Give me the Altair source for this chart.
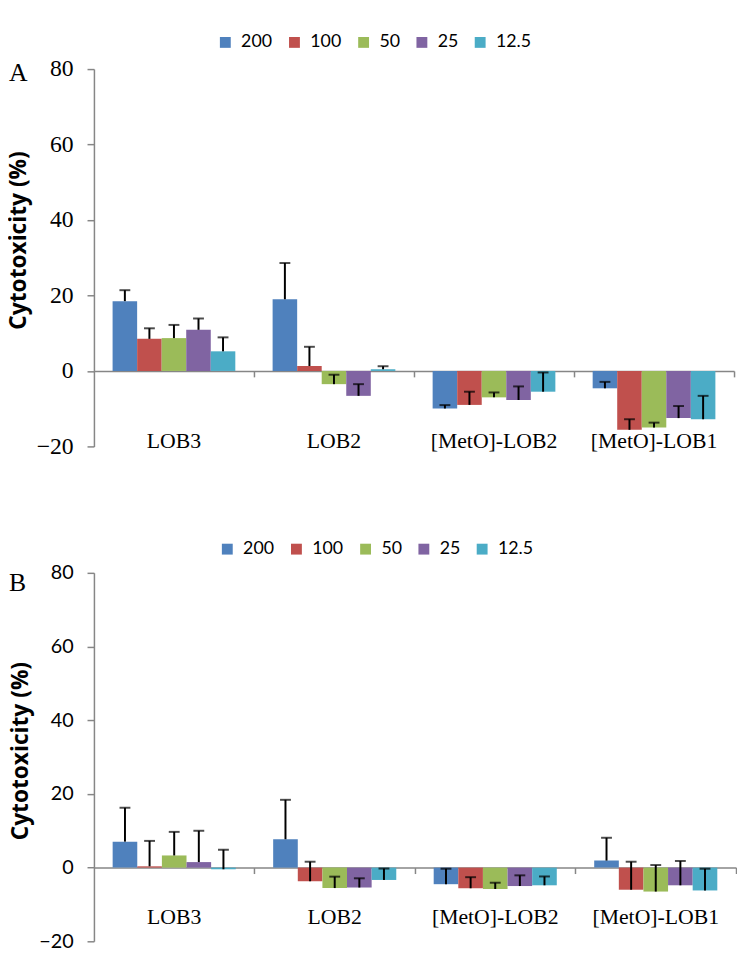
import altair as alt
import pandas as pd

categories = ["LOB3", "LOB2", "[MetO]-LOB2", "[MetO]-LOB1"]
concentrations = ["200", "100", "50", "25", "12.5"]
colors = ["#4F81BD", "#C0504D", "#9BBB59", "#8064A2", "#4BACC6"]

# Panel A: mean cytotoxicity (%) per category, in concentration order
a_lob3 = [18.5, 8.5, 8.7, 10.9, 5.2]
a_lob2 = [19.0, 1.3, -3.5, -6.6, 0.45]
a_meto_lob2 = [-9.95, -9.0, -7.0, -7.7, -5.5]
a_meto_lob1 = [-4.6, -15.6, -15.0, -12.5, -12.8]
# Panel A: error (upper) values
a_lob3_err = [2.9, 2.8, 3.5, 3.0, 3.7]
a_lob2_err = [9.6, 5.1, 2.5, 3.1, 0.8]
a_meto_lob2_err = [0.9, 3.5, 1.3, 3.6, 5.1]
a_meto_lob1_err = [1.7, 2.8, 1.3, 3.2, 6.2]

# Panel B
b_lob3 = [7.05, 0.35, 3.3, 1.5, -0.45]
b_lob2 = [7.7, -3.7, -5.55, -5.4, -3.35]
b_meto_lob2 = [-4.5, -5.6, -5.8, -5.0, -4.8]
b_meto_lob1 = [1.9, -6.0, -6.5, -4.8, -6.2]
b_lob3_err = [9.2, 6.9, 6.4, 8.5, 5.3]
b_lob2_err = [10.7, 5.3, 3.1, 2.5, 3.1]
b_meto_lob2_err = [4.2, 3.0, 1.7, 2.9, 2.4]
b_meto_lob1_err = [6.2, 7.6, 7.2, 6.6, 5.9]

y_ticks = [-20, 0, 20, 40, 60, 80]


def build(means, errs):
    rows = []
    for cat, m, e in zip(categories, means, errs):
        for conc, v, err in zip(concentrations, m, e):
            rows.append({"category": cat, "conc": conc, "value": v, "upper": v + err})
    return pd.DataFrame(rows)


def panel(df, letter, width, height, tick_font, tick_size, title_x, title_y,
          legend_x, legend_y, letter_x, letter_y, xlab_pad):
    grey = "#868686"
    xaxis = alt.Axis(
        title=None, orient="bottom", offset=-(height * 0.2),
        domainColor=grey, domainWidth=1.5, tickColor=grey, tickWidth=1.5,
        tickSize=6, bandPosition=1,
        labelPadding=xlab_pad, labelFont="Liberation Serif", labelFontSize=22,
        labelColor="black", labelAngle=0, labelOverlap=False,
    )
    yaxis = alt.Axis(
        title="Cytotoxicity (%)", values=y_ticks, grid=False,
        domainColor=grey, domainWidth=1.5, tickColor=grey, tickWidth=1.5,
        tickSize=7, labelPadding=14, labelFont=tick_font,
        labelFontSize=tick_size, labelColor="black",
        titleFont="Open Sans", titleFontWeight="bold", titleFontSize=23,
        titleColor="black", titleX=title_x, titleY=title_y,
    )
    yscale = alt.Scale(domain=[-20, 80], nice=False, zero=False, padding=0)
    x = alt.X("category:N", sort=categories,
              scale=alt.Scale(paddingInner=0, paddingOuter=0), axis=xaxis)
    xo = alt.XOffset("conc:N", sort=concentrations,
                     scale=alt.Scale(paddingInner=0, paddingOuter=0.76))
    color = alt.Color(
        "conc:N", sort=concentrations,
        scale=alt.Scale(domain=concentrations, range=colors),
        legend=alt.Legend(
            title=None, orient="none", legendX=legend_x, legendY=legend_y,
            direction="horizontal", columns=5, symbolType="square",
            symbolSize=121, symbolStrokeWidth=0, labelFont="Lato",
            labelFontSize=18, labelColor="black", labelOffset=7,
            columnPadding=13, padding=0,
        ),
    )
    base = alt.Chart(df)
    bars = base.mark_bar().encode(
        x=x, xOffset=xo,
        y=alt.Y("value:Q", scale=yscale, axis=yaxis, stack=None),
        color=color,
    )
    rules = base.mark_rule(color="black", strokeWidth=2).encode(
        x=x, xOffset=xo,
        y=alt.Y("value:Q", scale=yscale, axis=yaxis),
        y2="upper:Q",
    )
    caps = base.mark_tick(color="black", thickness=2, size=11).encode(
        x=x, xOffset=xo,
        y=alt.Y("upper:Q", scale=yscale, axis=yaxis),
    )
    lab = alt.Chart(pd.DataFrame({"letter": [letter]})).mark_text(
        font="Liberation Serif", fontSize=26, align="left", baseline="middle",
        color="black",
    ).encode(text="letter:N", x=alt.value(letter_x), y=alt.value(letter_y))
    return alt.layer(bars, rules, caps, lab).properties(width=width, height=height)


chart_a = panel(build([a_lob3, a_lob2, a_meto_lob2, a_meto_lob1],
                      [a_lob3_err, a_lob2_err, a_meto_lob2_err, a_meto_lob1_err]),
                "A", 648, 382, "Liberation Serif", 24, -64, 173, 124, -36, -86, 4, 54)
chart_b = panel(build([b_lob3, b_lob2, b_meto_lob2, b_meto_lob1],
                      [b_lob3_err, b_lob2_err, b_meto_lob2_err, b_meto_lob1_err]),
                "B", 650, 373, "Lato", 20, -62, 180, 126, -33, -86, 10, 34)

chart = alt.concat(chart_a, chart_b, columns=1, spacing=83, align="none").resolve_scale(
    x="independent", y="independent", color="independent", xOffset="independent"
).resolve_axis(x="independent", y="independent").resolve_legend(
    color="independent"
).properties(
    padding={"top": 20, "left": 0, "right": 0, "bottom": -5}
).configure_view(stroke=None)

chart.save("out.html", embed_options={"renderer": "svg", "actions": False})
